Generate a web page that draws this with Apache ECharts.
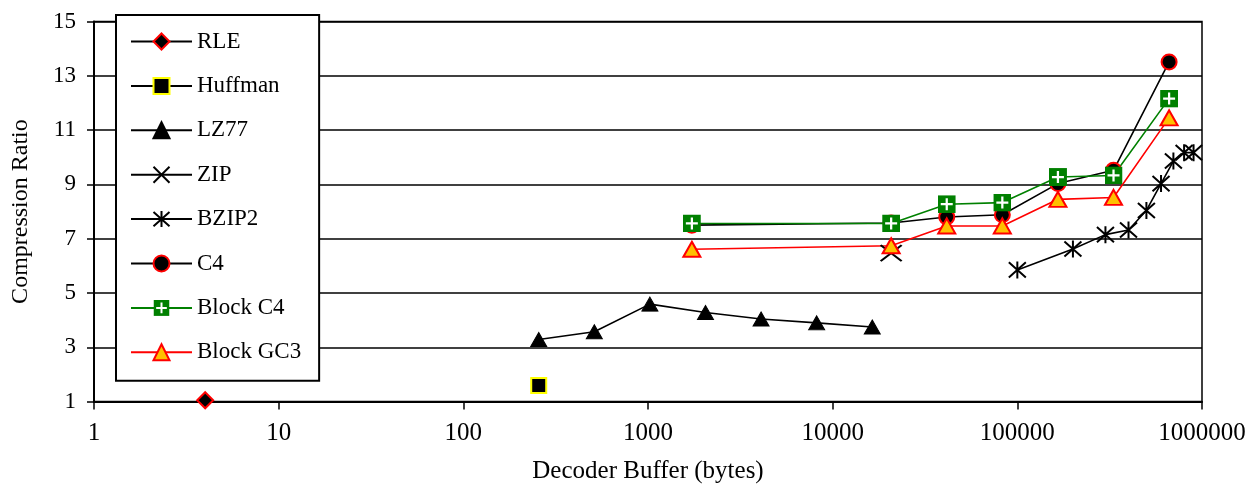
<!DOCTYPE html>
<html>
<head>
<meta charset="utf-8">
<script src="https://cdn.jsdelivr.net/npm/echarts@6/dist/echarts.min.js"></script>
<style>html,body{margin:0;padding:0;background:#fff;}#c{width:1248px;height:486px;}</style>
</head>
<body>
<div id="c"></div>
<script>
// ---- data ----
const seriesNames = ['RLE','Huffman','LZ77','ZIP','BZIP2','C4','Block C4','Block GC3'];
const rleX = [4];
const rleY = [1.05];
const huffmanX = [256];
const huffmanY = [1.59];
const lz77X = [256,512,1024,2048,4096,8192,16384];
const lz77Y = [3.29,3.57,4.59,4.28,4.04,3.90,3.75];
const zipX = [20736];
const zipY = [6.47];
const bzip2X = [100000,200000,300000,400000,500000,600000,700000,800000,900000];
const bzip2Y = [5.85,6.62,7.15,7.32,8.04,9.03,9.86,10.17,10.17];
const c4X = [1728,20736,41472,82944,165888,331776,663552];
const c4Y = [7.50,7.58,7.80,7.88,9.03,9.52,13.51];
const blockC4Y = [7.56,7.56,8.27,8.33,9.27,9.33,12.16];
const blockGC3Y = [6.61,6.74,7.47,7.47,8.45,8.52,11.45];
const xTicks = [1,10,100,1000,10000,100000,1000000];
const yTicks = [1,3,5,7,9,11,13,15];

const zip = (xs, ys) => xs.map((x, i) => [x, ys[i]]);
const FONT = 'Liberation Serif';
const blockC4Icon = 'image://data:image/svg+xml;charset=utf-8,' + encodeURIComponent(
  "<svg xmlns='http://www.w3.org/2000/svg' width='36' height='36' viewBox='0 0 36 36'>" +
  "<rect x='0' y='0' width='36' height='36' fill='#008000'/>" +
  "<path d='M18 6V30M6 18H30' stroke='#ffffff' stroke-width='4.5'/></svg>");
const xPath = 'path://M0,0L20,14M20,0L0,14';
const starPath = 'path://M0,0L16,16M16,0L0,16M8,-1L8,17';

function mk(name, data, o) {
  return Object.assign({
    name, type: 'line', data, animation: false,
    emphasis: { disabled: true },
    lineStyle: { color: '#000', width: 1.6 },
    z: 3
  }, o);
}

const chart = echarts.init(document.getElementById('c'), null, { renderer: 'canvas' });
chart.setOption({
  backgroundColor: '#fff',
  animation: false,
  textStyle: { fontFamily: FONT },
  grid: { left: 94, right: 46, top: 21.5, bottom: 84.4, containLabel: false, outerBoundsMode: 'none',
    show: true, borderColor: '#000', borderWidth: 1.5, backgroundColor: 'transparent' },
  legend: {
    orient: 'vertical', left: 116, top: 15,
    data: seriesNames,
    itemWidth: 61, itemHeight: 20, itemGap: 21.4,
    padding: [15, 18, 17, 14],
    backgroundColor: '#fff', borderColor: '#000', borderWidth: 2,
    textStyle: { fontFamily: FONT, fontSize: 23, color: '#000' },
    selectedMode: false
  },
  xAxis: {
    type: 'log', logBase: 10, min: 1, max: 1000000,
    name: 'Decoder Buffer (bytes)', nameLocation: 'middle', nameGap: 57,
    nameTextStyle: { fontFamily: FONT, fontSize: 25, color: '#000' },
    axisLine: { lineStyle: { color: '#000', width: 2 } },
    axisTick: { show: true, length: 8, lineStyle: { color: '#000', width: 1.5 } },
    axisLabel: { fontFamily: FONT, fontSize: 25, color: '#000', margin: 19,
      formatter: v => { const r = Math.round(v); return xTicks.includes(r) ? String(r) : ''; } },
    splitLine: { show: false }, minorTick: { show: false }
  },
  yAxis: {
    type: 'value', min: yTicks[0], max: yTicks[yTicks.length - 1], interval: 2,
    name: 'Compression Ratio', nameLocation: 'middle', nameGap: 61,
    nameTextStyle: { fontFamily: FONT, fontSize: 24, color: '#000' },
    axisLine: { show: true, lineStyle: { color: '#000', width: 2 } },
    axisTick: { show: true, length: 7, lineStyle: { color: '#000', width: 1.5 } },
    axisLabel: { fontFamily: FONT, fontSize: 23, color: '#000', margin: 18 },
    splitLine: { show: true, lineStyle: { color: '#000', width: 1.5 } }
  },
  series: [
    mk('RLE', zip(rleX, rleY), { symbol: 'diamond', symbolSize: 16,
      itemStyle: { color: '#000', borderColor: '#ff0000', borderWidth: 2 } }),
    mk('Huffman', zip(huffmanX, huffmanY), { symbol: 'rect', symbolSize: 15,
      itemStyle: { color: '#000', borderColor: '#ffff00', borderWidth: 2 } }),
    mk('LZ77', zip(lz77X, lz77Y), { symbol: 'triangle', symbolSize: [16, 14],
      itemStyle: { color: '#000', borderColor: '#000', borderWidth: 1 } }),
    mk('ZIP', zip(zipX, zipY), { symbol: xPath, symbolSize: [21, 16],
      itemStyle: { color: 'rgba(0,0,0,0)', borderColor: '#000', borderWidth: 2 } }),
    mk('BZIP2', zip(bzip2X, bzip2Y), { symbol: starPath, symbolSize: 17,
      itemStyle: { color: 'rgba(0,0,0,0)', borderColor: '#000', borderWidth: 2 } }),
    mk('C4', zip(c4X, c4Y), { symbol: 'circle', symbolSize: 15,
      itemStyle: { color: '#000', borderColor: '#ff0000', borderWidth: 2 } }),
    mk('Block C4', zip(c4X, blockC4Y), { symbol: blockC4Icon, symbolSize: 18,
      lineStyle: { color: '#008000', width: 1.6 },
      itemStyle: { color: '#008000' } }),
    mk('Block GC3', zip(c4X, blockGC3Y), { symbol: 'triangle', symbolSize: [17, 15],
      lineStyle: { color: '#ff0000', width: 1.6 },
      itemStyle: { color: '#ffc000', borderColor: '#ff0000', borderWidth: 2 } })
  ]
});
</script>
</body>
</html>
